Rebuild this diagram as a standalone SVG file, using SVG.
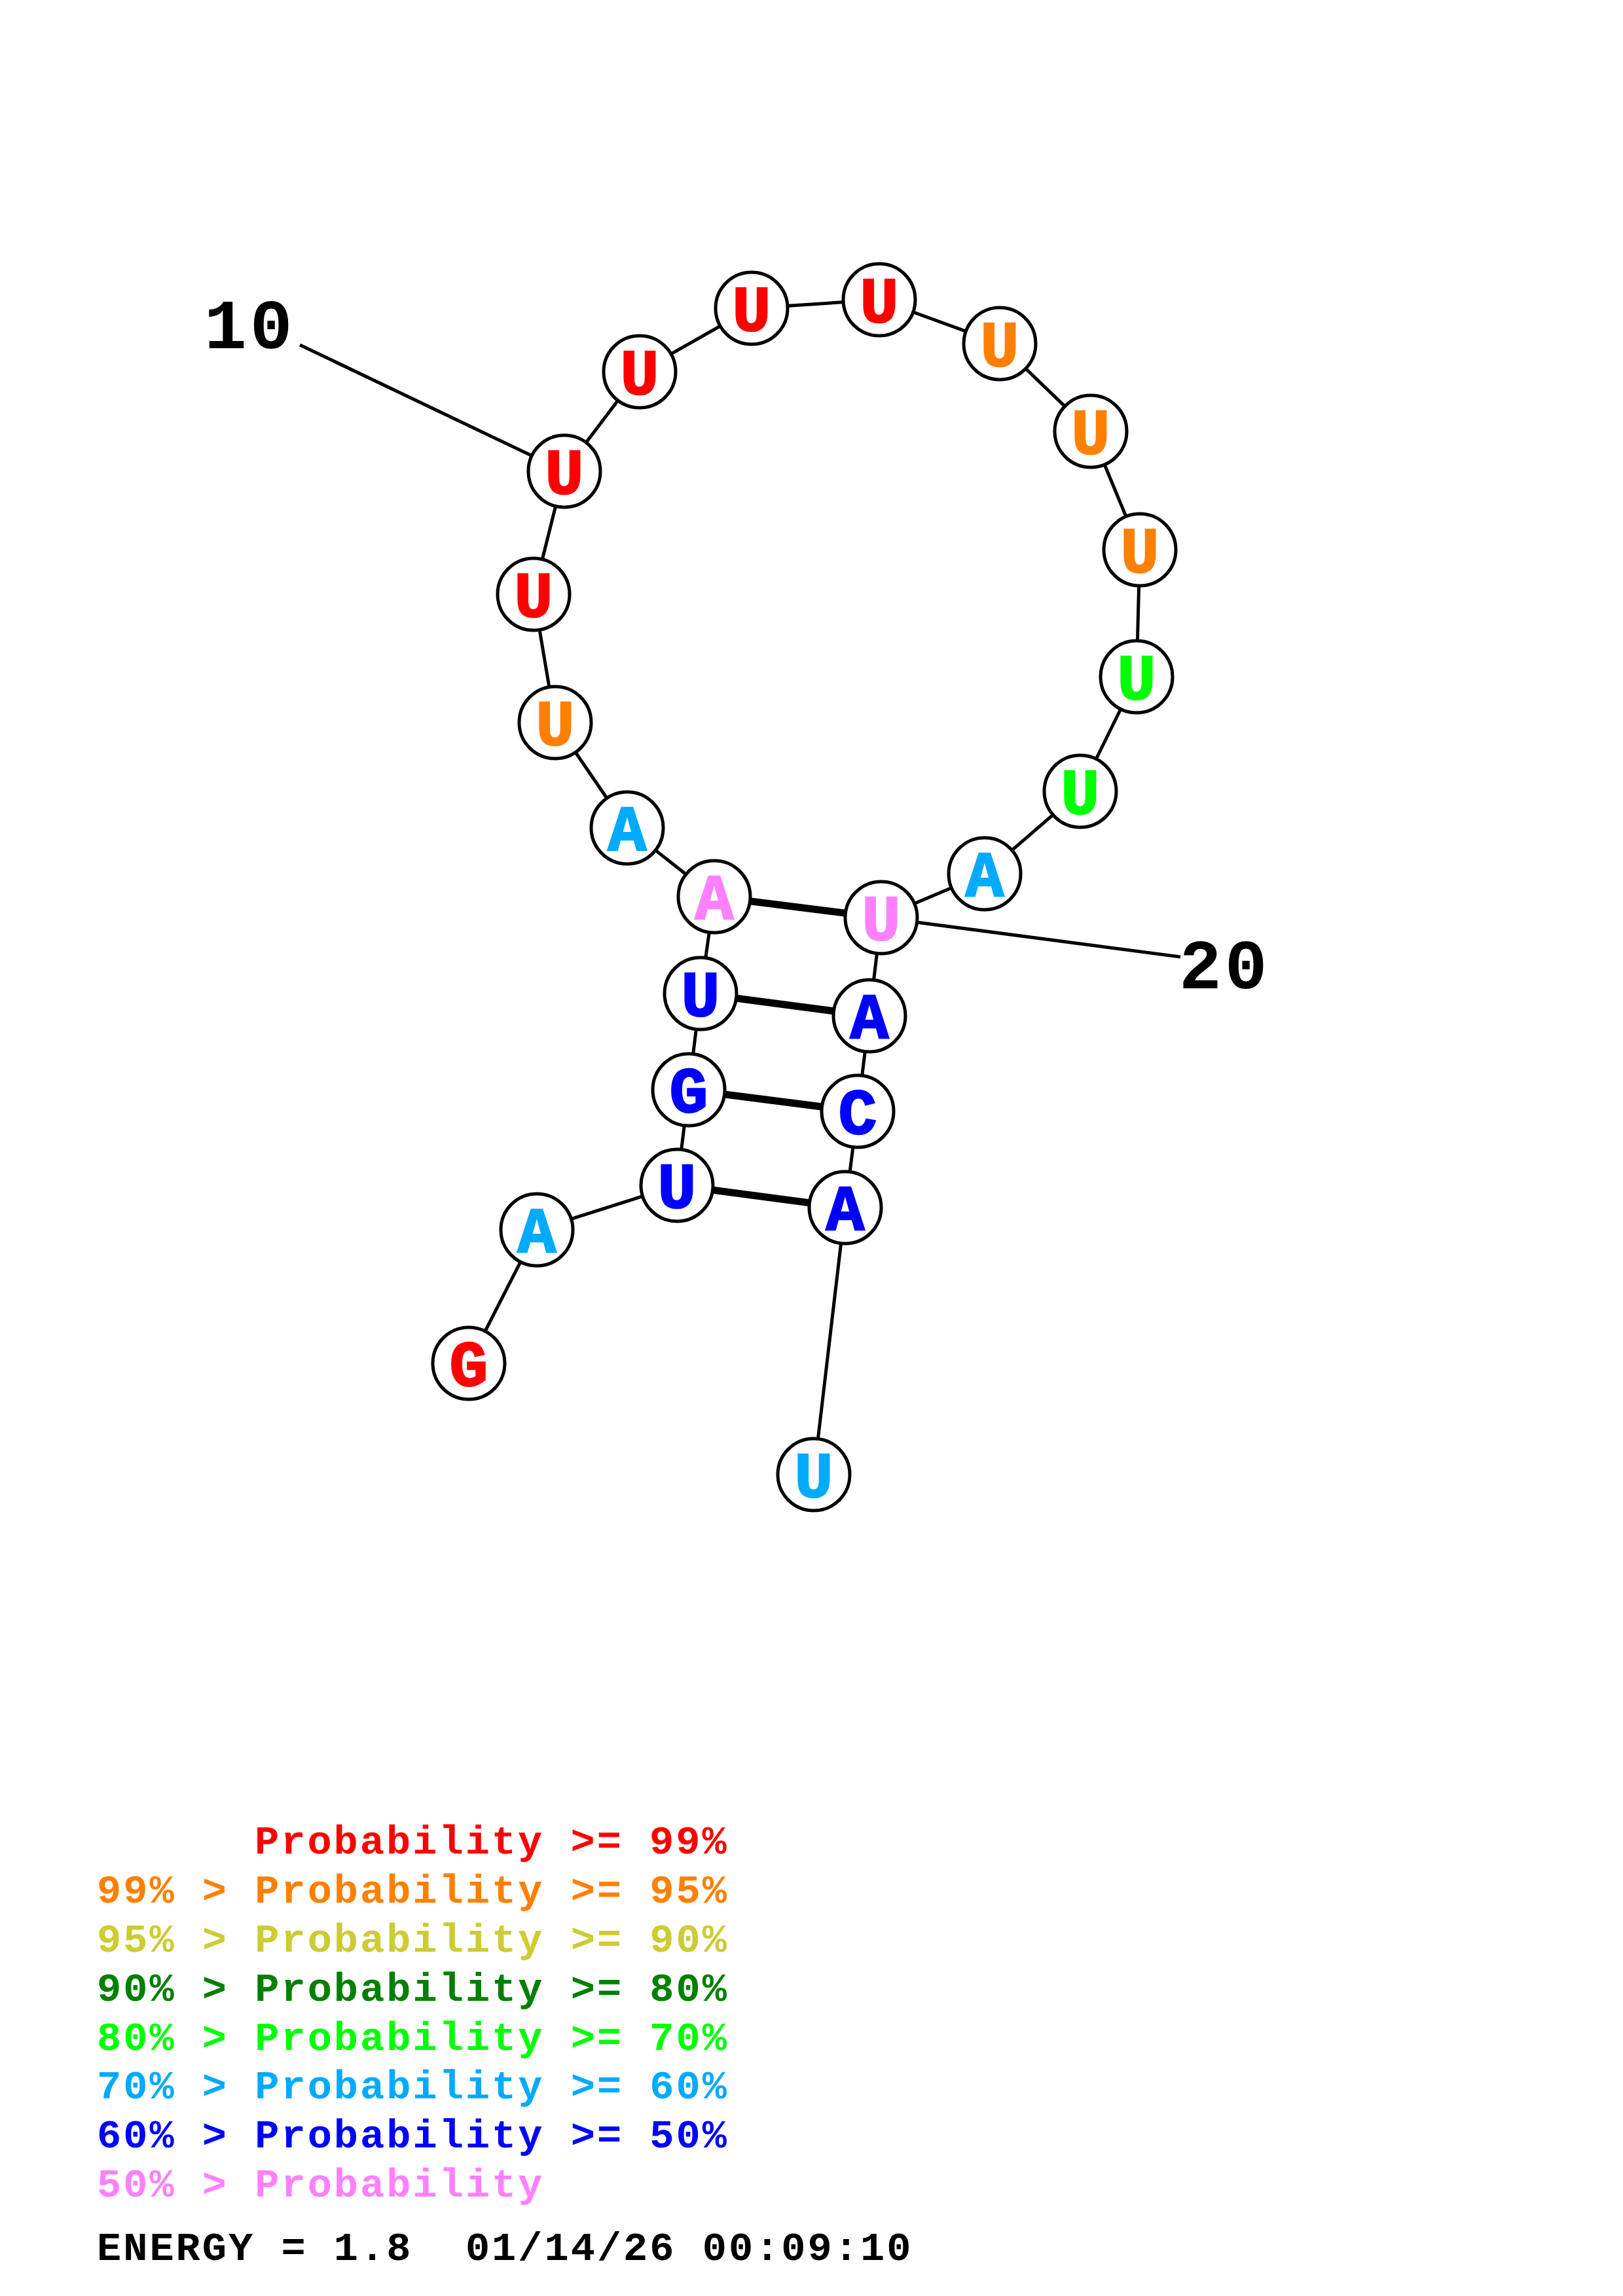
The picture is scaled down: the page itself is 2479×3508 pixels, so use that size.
<svg xmlns="http://www.w3.org/2000/svg" width="2479" height="3508" viewBox="0 0 2479 3508">
<style>
.bb{stroke:#000;stroke-width:5;fill:none}
.bp{stroke:#000;stroke-width:11;fill:none}
.nc{fill:#fff;stroke:#000;stroke-width:5}
.nt{font-family:"Liberation Mono","DejaVu Sans Mono",monospace;font-weight:bold;font-size:98px;text-anchor:middle;stroke-width:2.5}
.lbl{font-family:"Liberation Mono","DejaVu Sans Mono",monospace;font-weight:bold;font-size:108px;letter-spacing:5px;fill:#000}
.lg{font-family:"Liberation Mono","DejaVu Sans Mono",monospace;font-weight:bold;font-size:62px;letter-spacing:3px}
.r{fill:#FF0000;stroke:#FF0000}.o{fill:#FF8000;stroke:#FF8000}.y{fill:#CCCC33}.dg{fill:#008000}.g{fill:#00FF00;stroke:#00FF00}.lb{fill:#00AAFF;stroke:#00AAFF}.b{fill:#0000FF;stroke:#0000FF}.p{fill:#FF80FF;stroke:#FF80FF}.k{fill:#000}
.lg{stroke:none}
</style>
<rect width="2479" height="3508" fill="#fff"/>
<g id="connectors">
<polyline class="bb" points="716,2083 820,1879 1034,1811 1052,1665 1070,1518 1091,1370 958,1265 848,1104 815,908 862,720 977,568 1148,471 1343,458 1527,525 1666,659 1741,840 1736,1034 1650,1209 1504,1335 1346,1402 1328,1552 1310,1698 1291,1845 1243,2253"/>
<line class="bp" x1="1091" y1="1370" x2="1346" y2="1402"/>
<line class="bp" x1="1070" y1="1518" x2="1328" y2="1552"/>
<line class="bp" x1="1052" y1="1665" x2="1310" y2="1698"/>
<line class="bp" x1="1034" y1="1811" x2="1291" y2="1845"/>
<line class="bb" x1="458" y1="527" x2="862" y2="720"/>
<line class="bb" x1="1346" y1="1402" x2="1803" y2="1462"/>
</g>
<g id="n1"><circle class="nc" cx="716" cy="2083" r="55"/><text class="nt r" x="716" y="2117">G</text></g>
<g id="n2"><circle class="nc" cx="820" cy="1879" r="55"/><text class="nt lb" x="820" y="1913">A</text></g>
<g id="n3"><circle class="nc" cx="1034" cy="1811" r="55"/><text class="nt b" x="1034" y="1845">U</text></g>
<g id="n4"><circle class="nc" cx="1052" cy="1665" r="55"/><text class="nt b" x="1052" y="1699">G</text></g>
<g id="n5"><circle class="nc" cx="1070" cy="1518" r="55"/><text class="nt b" x="1070" y="1552">U</text></g>
<g id="n6"><circle class="nc" cx="1091" cy="1370" r="55"/><text class="nt p" x="1091" y="1404">A</text></g>
<g id="n7"><circle class="nc" cx="958" cy="1265" r="55"/><text class="nt lb" x="958" y="1299">A</text></g>
<g id="n8"><circle class="nc" cx="848" cy="1104" r="55"/><text class="nt o" x="848" y="1138">U</text></g>
<g id="n9"><circle class="nc" cx="815" cy="908" r="55"/><text class="nt r" x="815" y="942">U</text></g>
<g id="n10"><circle class="nc" cx="862" cy="720" r="55"/><text class="nt r" x="862" y="754">U</text></g>
<g id="n11"><circle class="nc" cx="977" cy="568" r="55"/><text class="nt r" x="977" y="602">U</text></g>
<g id="n12"><circle class="nc" cx="1148" cy="471" r="55"/><text class="nt r" x="1148" y="505">U</text></g>
<g id="n13"><circle class="nc" cx="1343" cy="458" r="55"/><text class="nt r" x="1343" y="492">U</text></g>
<g id="n14"><circle class="nc" cx="1527" cy="525" r="55"/><text class="nt o" x="1527" y="559">U</text></g>
<g id="n15"><circle class="nc" cx="1666" cy="659" r="55"/><text class="nt o" x="1666" y="693">U</text></g>
<g id="n16"><circle class="nc" cx="1741" cy="840" r="55"/><text class="nt o" x="1741" y="874">U</text></g>
<g id="n17"><circle class="nc" cx="1736" cy="1034" r="55"/><text class="nt g" x="1736" y="1068">U</text></g>
<g id="n18"><circle class="nc" cx="1650" cy="1209" r="55"/><text class="nt g" x="1650" y="1243">U</text></g>
<g id="n19"><circle class="nc" cx="1504" cy="1335" r="55"/><text class="nt lb" x="1504" y="1369">A</text></g>
<g id="n20"><circle class="nc" cx="1346" cy="1402" r="55"/><text class="nt p" x="1346" y="1436">U</text></g>
<g id="n21"><circle class="nc" cx="1328" cy="1552" r="55"/><text class="nt b" x="1328" y="1586">A</text></g>
<g id="n22"><circle class="nc" cx="1310" cy="1698" r="55"/><text class="nt b" x="1310" y="1732">C</text></g>
<g id="n23"><circle class="nc" cx="1291" cy="1845" r="55"/><text class="nt b" x="1291" y="1879">A</text></g>
<g id="n24"><circle class="nc" cx="1243" cy="2253" r="55"/><text class="nt lb" x="1243" y="2287">U</text></g>
<g id="labels">
<text class="lbl" x="312" y="532">10</text>
<text class="lbl" x="1801" y="1510">20</text>
</g>
<g id="legend">
<text class="lg r" x="389" y="2832">Probability &gt;= 99%</text>
<text class="lg o" x="148" y="2907">99% &gt; Probability &gt;= 95%</text>
<text class="lg y" x="148" y="2982">95% &gt; Probability &gt;= 90%</text>
<text class="lg dg" x="148" y="3057">90% &gt; Probability &gt;= 80%</text>
<text class="lg g" x="148" y="3132">80% &gt; Probability &gt;= 70%</text>
<text class="lg lb" x="148" y="3206">70% &gt; Probability &gt;= 60%</text>
<text class="lg b" x="148" y="3281">60% &gt; Probability &gt;= 50%</text>
<text class="lg p" x="148" y="3356">50% &gt; Probability</text>
<text class="lg k" x="148" y="3453" xml:space="preserve">ENERGY = 1.8  01/14/26 00:09:10</text>
</g>
</svg>
